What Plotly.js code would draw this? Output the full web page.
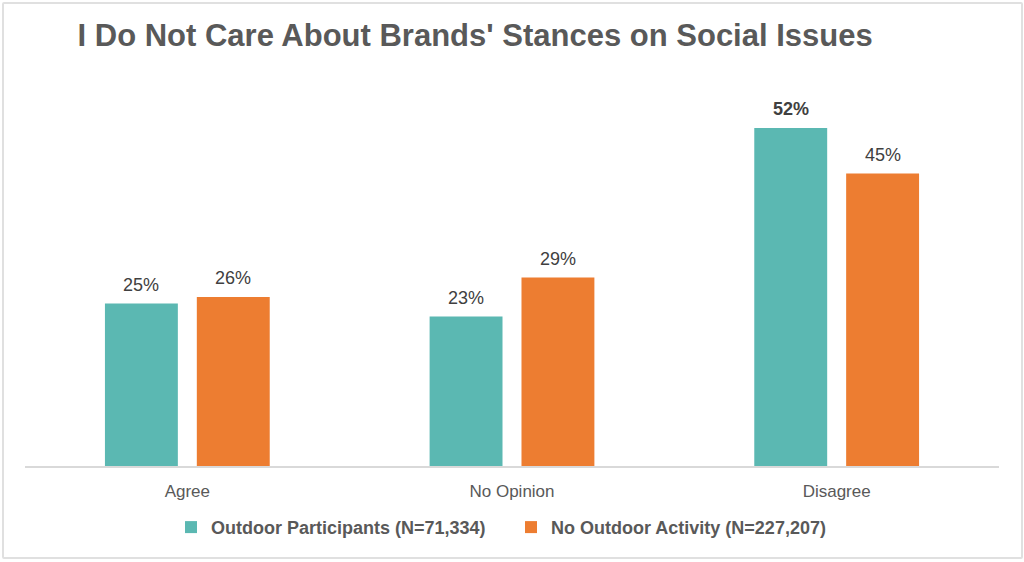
<!DOCTYPE html>
<html><head><meta charset="utf-8">
<script src="https://cdn.plot.ly/plotly-3.0.1.min.js"></script>
<style>
html,body{margin:0;padding:0;background:#fff;}
#wrap{position:relative;width:1024px;height:562px;}
#chart{width:1024px;height:562px;}
#frame{position:absolute;left:2px;top:2px;width:1017px;height:553px;border:2px solid #e0e0e0;border-radius:2px;pointer-events:none;}
</style></head>
<body><div id="wrap"><div id="chart"></div><div id="frame"></div></div>
<script>
const categories = ["Agree", "No Opinion", "Disagree"];
const seriesNames = ["Outdoor Participants (N=71,334)", "No Outdoor Activity (N=227,207)"];
const outdoorParticipants = [25, 23, 52];
const noOutdoorActivity = [26, 29, 45];
const colors = ["#5BB8B2", "#ED7D31"];
const boldLabel = [[false, false, true], [false, false, false]];

const FONT = "Liberation Sans, Arial, sans-serif";
const bargap = 0.434, bargroupgap = 0.2065;
const slotHalf = (1 - bargap) / 4;

const series = [outdoorParticipants, noOutdoorActivity];
const traces = series.map((vals, s) => ({
  type: "bar", name: seriesNames[s], x: categories, y: vals,
  marker: {color: colors[s]}, hoverinfo: "skip"
}));

const annotations = [];
series.forEach((vals, s) => {
  vals.forEach((v, i) => {
    annotations.push({
      x: i + (s === 0 ? -slotHalf : slotHalf), y: v, xref: "x", yref: "y",
      text: boldLabel[s][i] ? "<b>" + v + "%</b>" : v + "%",
      showarrow: false, yanchor: "bottom", xanchor: "center", yshift: 7,
      font: {family: FONT, size: 18, color: "#404040"}
    });
  });
});

const layout = {
  width: 1024, height: 562,
  margin: {l: 25, r: 25, t: 76, b: 96, autoexpand: false},
  paper_bgcolor: "#fff", plot_bgcolor: "#fff",
  title: {text: "<b>I Do Not Care About Brands' Stances on Social Issues</b>",
          font: {family: FONT, size: 31, color: "#595959"},
          xref: "container", x: 0.464, xanchor: "center", yref: "container", y: 0.937, yanchor: "middle"},
  barmode: "group", bargap: bargap, bargroupgap: bargroupgap,
  xaxis: {showline: true, linecolor: "#d9d9d9", linewidth: 1.5, ticks: "",
          ticklabelstandoff: 9,
          tickfont: {family: FONT, size: 17, color: "#595959"},
          fixedrange: true},
  yaxis: {range: [0, 60], visible: false, showgrid: false, zeroline: false},
  annotations: annotations,
  showlegend: true,
  legend: {orientation: "h", x: 0.499, xanchor: "center", y: -0.11, yanchor: "top",
           font: {family: FONT, size: 18, color: "#595959", weight: "bold"},
           itemwidth: 30, traceorder: "normal", entrywidth: 295, entrywidthmode: "pixels"},
  font: {family: FONT}
};

Plotly.newPlot("chart", traces, layout, {displayModeBar: false, staticPlot: true});
</script></body></html>
